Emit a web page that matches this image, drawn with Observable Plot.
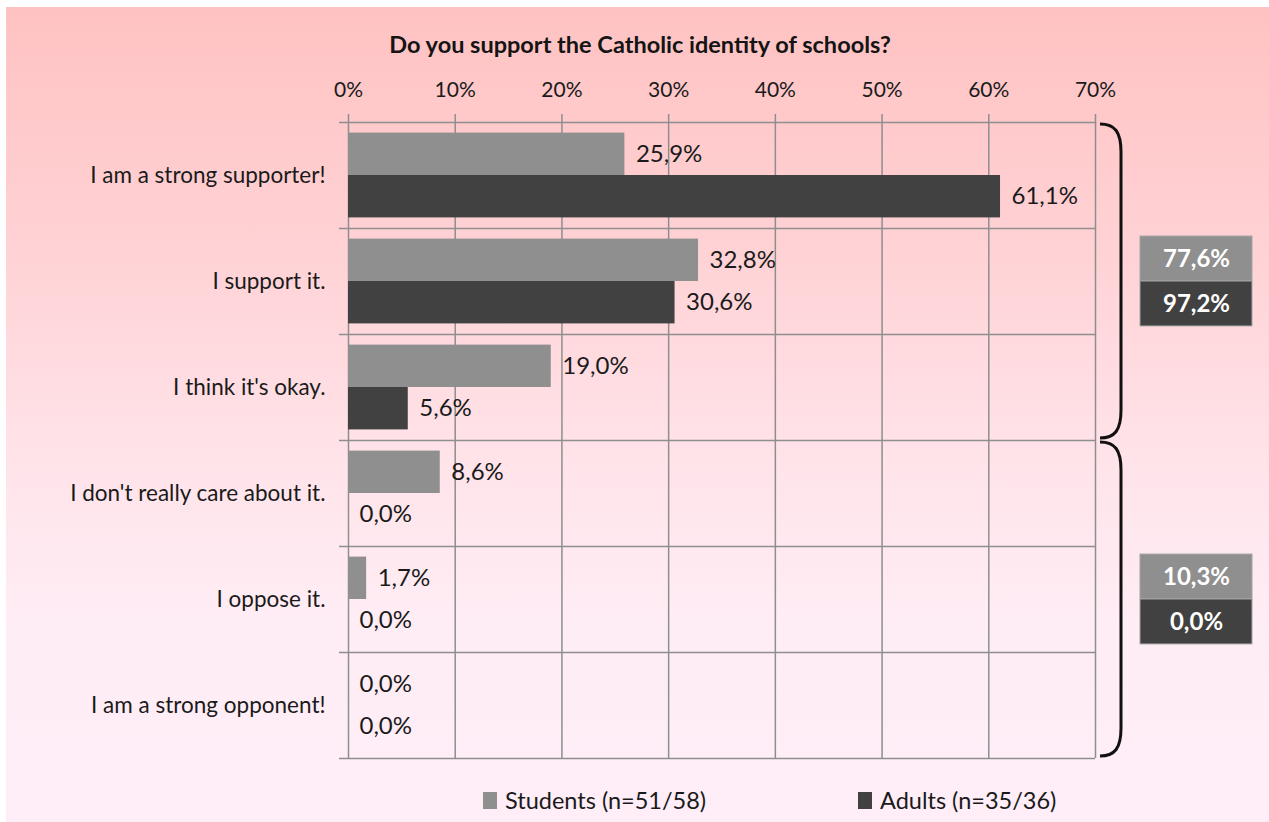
<!DOCTYPE html>
<html>
<head>
<meta charset="utf-8">
<script src="https://cdn.jsdelivr.net/npm/d3@7"></script>
<script src="https://cdn.jsdelivr.net/npm/@observablehq/plot@0.6"></script>
<style>
  html, body { margin: 0; padding: 0; background: #ffffff; }
  #wrap { position: relative; width: 1269px; height: 822px; overflow: hidden; font-family: Lato, "Open Sans", sans-serif; color: #1a1a1a; }
  #bg { position: absolute; left: 6px; top: 7px; right: 0; bottom: 0;
        background: linear-gradient(to bottom, #ffc2c2 0%, #ffd2d5 30%, #ffe3e9 55%, #ffedf5 76%, #ffeef8 100%); }
  #title { position: absolute; left: 0; top: 30px; width: 1280px; text-align: center; font-weight: bold; font-size: 23.5px; line-height: 28px; color: #141414; }
  #chart { position: absolute; left: 0; top: 0; }
  #legend { position: absolute; top: 785px; left: 0; width: 1269px; height: 30px; font-size: 23.5px; line-height: 30px; }
  #legend .item { position: absolute; top: 0; display: flex; align-items: center; white-space: nowrap; }
  #legend .item:nth-child(1) { left: 483px; }
  #legend .item:nth-child(2) { left: 858px; }
  #legend .sw { display: inline-block; width: 14px; height: 17px; margin-right: 8px; }
</style>
</head>
<body>
<div id="wrap">
  <div id="bg"></div>
  <div id="title"></div>
  <div id="chart"></div>
  <div id="legend"></div>
</div>
<script>
// ---- data ----
const chartTitle = "Do you support the Catholic identity of schools?";
const categories = [
  "I am a strong supporter!",
  "I support it.",
  "I think it's okay.",
  "I don't really care about it.",
  "I oppose it.",
  "I am a strong opponent!"
];
const seriesNames = ["Students (n=51/58)", "Adults (n=35/36)"];
const seriesColors = ["#8f8f8f", "#414141"];
const studentValues = [25.9, 32.8, 19.0, 8.6, 1.7, 0.0];
const adultValues = [61.1, 30.6, 5.6, 0.0, 0.0, 0.0];
// summary groups: categories [start, end)
const groupStarts = [0, 3];
const groupEnds = [3, 6];
const studentTotals = [77.6, 10.3];
const adultTotals = [97.2, 0.0];
const xTicks = [0, 10, 20, 30, 40, 50, 60, 70];

// ---- derived tables ----
const fmt = v => d3.format(".1f")(v).replace(".", ",") + "%";
const seriesValues = [studentValues, adultValues];
const totalValues = [studentTotals, adultTotals];
const xMax = xTicks[xTicks.length - 1];
const barPad = 0.1, barHalf = 0.4, boxHalf = 0.424;

const bars = seriesNames.flatMap((s, k) => categories.map((c, i) => {
  const y1 = i + barPad + k * barHalf;
  return { category: c, series: s, value: seriesValues[k][i], y1, y2: y1 + barHalf, ym: y1 + barHalf / 2 };
}));

const groups = groupStarts.map((s, g) => ({ start: s, end: groupEnds[g], center: (s + groupEnds[g]) / 2 }));
const totals = seriesNames.flatMap((s, k) => groups.map((gr, g) => {
  const y1 = gr.center - boxHalf + k * boxHalf;
  return { series: s, value: totalValues[k][g], y1, y2: y1 + boxHalf, ym: y1 + boxHalf / 2 };
}));

// ---- brace mark (custom render through Plot scales) ----
function braces(index, scales, values, dims) {
  const g = d3.create("svg:g");
  const xr = dims.width - dims.marginRight;
  const y = scales.y;
  groups.forEach(gr => {
    const y0 = y(gr.start) + 2, y1 = y(gr.end) - 2;
    const x0 = xr + 5, x1 = xr + 26, r = 28;
    const p = `M${x0},${y0} C${x0 + 15},${y0} ${x1},${y0 + 8} ${x1},${y0 + r} L${x1},${y1 - r} C${x1},${y1 - 8} ${x0 + 15},${y1} ${x0},${y1}`;
    g.append("path").attr("d", p).attr("fill", "none").attr("stroke", "#111").attr("stroke-width", 3);
  });
  return g.node();
}

const gridColor = "#8e8e8e";

const chart = Plot.plot({
  width: 1269,
  height: 780,
  marginTop: 122,
  marginBottom: 22,
  marginLeft: 348,
  marginRight: 174,
  style: { background: "transparent", fontFamily: "Lato, 'Open Sans', sans-serif", fontSize: "21px", color: "#1a1a1a", overflow: "visible" },
  x: { domain: [0, xMax] },
  y: { domain: [0, categories.length], reverse: true },
  color: { domain: seriesNames, range: seriesColors },
  marks: [
    Plot.gridX(xTicks, { stroke: gridColor, strokeOpacity: 1, strokeWidth: 1.5 }),
    Plot.ruleY(d3.range(categories.length + 1), { stroke: gridColor, strokeWidth: 1.5, insetLeft: -9 }),
    Plot.axisX(xTicks, { anchor: "top", tickSize: 9, tickPadding: 17, tickFormat: d => d + "%", label: null, stroke: gridColor, strokeWidth: 1.5, fill: "#1a1a1a", fontSize: 21 }),
    Plot.axisY(categories.map((c, i) => i + 0.5), { anchor: "left", tickSize: 0, tickPadding: 23, tickFormat: d => categories[Math.floor(d)], label: null, fill: "#1a1a1a", fontSize: 22.5 }),
    Plot.rect(bars, { x1: 0, x2: "value", y1: "y1", y2: "y2", fill: "series" }),
    Plot.text(bars, { x: "value", y: "ym", text: d => fmt(d.value), textAnchor: "start", dx: 11, fontSize: 24, fill: "#1a1a1a" }),
    braces,
    Plot.rect(totals, { x1: xMax, x2: xMax, y1: "y1", y2: "y2", fill: "series", stroke: "#a4a4a4", strokeWidth: 1, insetLeft: 45, insetRight: -157 }),
    Plot.text(totals, { x: xMax, y: "ym", text: d => fmt(d.value), dx: 101, fill: "white", fontWeight: "bold", fontSize: 24 })
  ]
});

document.getElementById("chart").appendChild(chart);
document.getElementById("title").textContent = chartTitle;

const legend = d3.select("#legend");
seriesNames.forEach((s, k) => {
  const item = legend.append("div").attr("class", "item");
  item.append("span").attr("class", "sw").style("background", seriesColors[k]);
  item.append("span").text(s);
});
</script>
</body>
</html>
